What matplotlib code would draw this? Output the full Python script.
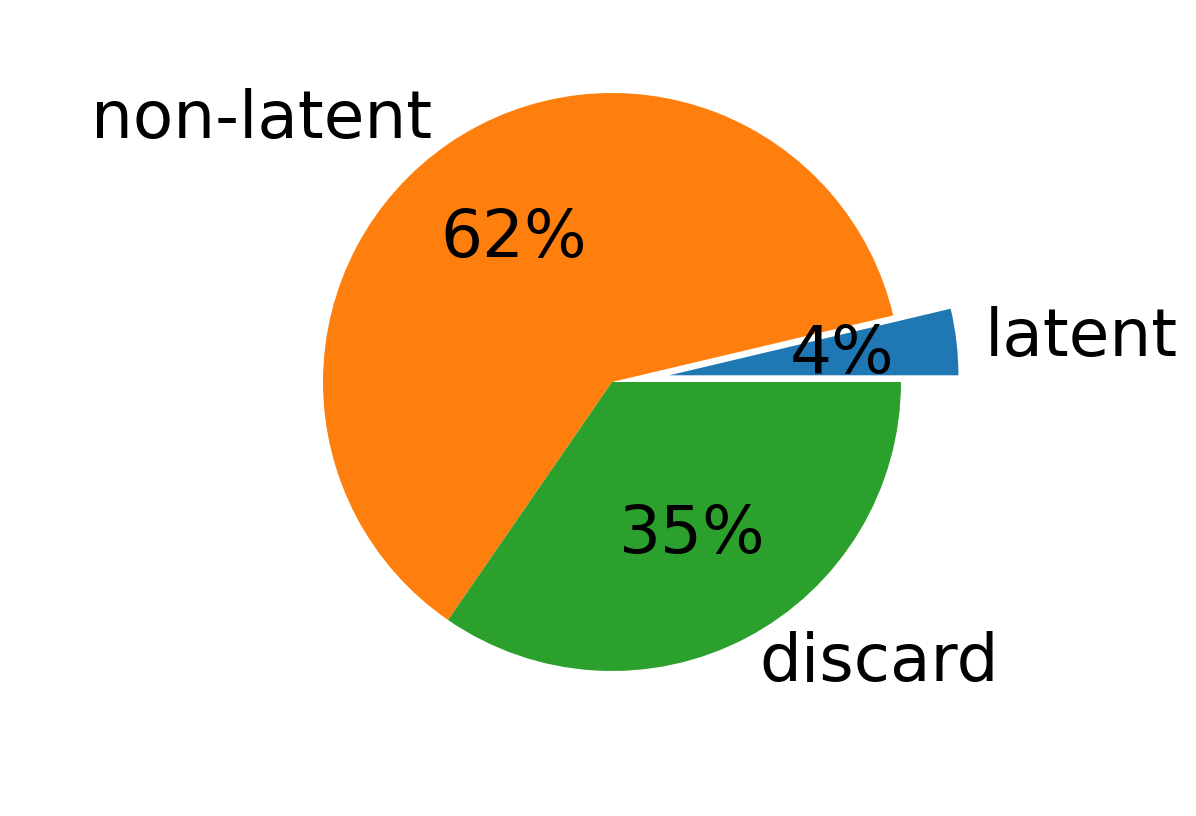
import matplotlib
matplotlib.use("Agg")
import matplotlib.pyplot as plt

labels = ["latent", "non-latent", "discard"]
values = [3.7, 61.7, 34.6]
explode = [0.2, 0, 0]
colors = ["#1f77b4", "#ff7f0e", "#2ca02c"]

fig = plt.figure(figsize=(11.96, 8.16), dpi=100)
ax = fig.add_axes([0, 0, 1, 1])
ax.pie(values, labels=labels, explode=explode, colors=colors,
       autopct="%1.0f%%", textprops={"fontsize": 47.5})
ax.set_aspect("auto")
ax.set_xlim(-612 / 289, (1196 - 612) / 289)
ax.set_ylim(-(816 - 382) / 289, 382 / 289)
ax.axis("off")
fig.savefig("out.png", dpi=100)
